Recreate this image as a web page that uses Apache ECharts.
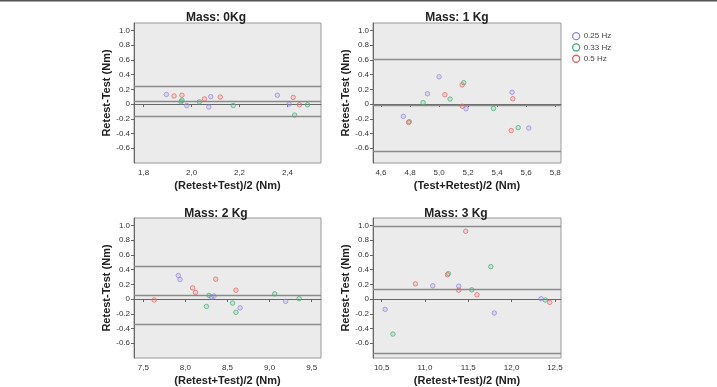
<!DOCTYPE html>
<html>
<head>
<meta charset="utf-8">
<script src="https://cdn.jsdelivr.net/npm/echarts@6/dist/echarts.min.js"></script>
<style>
  html, body { margin: 0; padding: 0; background: #fff; }
  #chart { width: 717px; height: 387px; }
</style>
</head>
<body>
<div id="chart"></div>
<script>
// Bland-Altman plots, one panel per mass
const freqNames = ["0.25 Hz", "0.33 Hz", "0.5 Hz"];
const titles = ["Mass: 0Kg", "Mass: 1 Kg", "Mass: 2 Kg", "Mass: 3 Kg"];
const xNames = ["(Retest+Test)/2 (Nm)", "(Test+Retest)/2 (Nm)", "(Retest+Test)/2 (Nm)", "(Retest+Test)/2 (Nm)"];
const yName = "Retest-Test (Nm)";

// x ticks per panel
const xTicks = [
  [1.8, 2.0, 2.2, 2.4],
  [4.6, 4.8, 5.0, 5.2, 5.4, 5.6, 5.8],
  [7.5, 8.0, 8.5, 9.0, 9.5],
  [10.5, 11.0, 11.5, 12.0, 12.5]
];
const xRanges = [[1.76, 2.54], [4.545, 5.84], [7.39, 9.61], [10.4, 12.57]];
const yTicks = [-0.6, -0.4, -0.2, 0, 0.2, 0.4, 0.6, 0.8, 1.0];

// mean difference and limits of agreement
const refLines = [
  [0.245, 0.04, -0.165],
  [0.61, -0.02, -0.64],
  [0.45, 0.054, -0.34],
  [0.995, 0.13, -0.74]
];

// [mean, diff] points, per panel
const hz025 = [
  [[1.895, 0.13], [1.98, -0.02], [2.072, -0.04], [2.08, 0.10], [2.358, 0.12], [2.407, 0.0]],
  [[4.754, -0.167], [4.92, 0.14], [5.0, 0.37], [5.186, -0.063], [5.503, 0.16], [5.618, -0.326]],
  [[7.916, 0.32], [7.936, 0.265], [8.31, 0.03], [8.34, 0.04], [8.65, -0.12], [9.19, -0.03]],
  [[10.54, -0.14], [11.09, 0.18], [11.39, 0.175], [11.8, -0.19], [12.34, 0.005]]
];
const hz033 = [
  [[1.96, 0.05], [1.956, 0.03], [2.033, 0.03], [2.174, -0.02], [2.43, -0.15], [2.484, -0.01]],
  [[4.795, -0.24], [4.89, 0.02], [5.076, 0.068], [5.17, 0.29], [5.375, -0.06], [5.545, -0.32]],
  [[8.25, -0.1], [8.28, 0.05], [8.56, -0.055], [8.6, -0.18], [9.06, 0.07], [9.35, 0.005]],
  [[10.63, -0.475], [11.27, 0.345], [11.54, 0.125], [11.76, 0.44], [12.39, -0.013]]
];
const hz05 = [
  [[1.927, 0.11], [1.96, 0.12], [2.054, 0.07], [2.12, 0.095], [2.424, 0.09], [2.45, -0.01]],
  [[4.79, -0.25], [5.04, 0.127], [5.159, 0.26], [5.16, -0.03], [5.508, 0.072], [5.497, -0.36]],
  [[7.63, -0.013], [8.086, 0.152], [8.12, 0.09], [8.36, 0.27], [8.6, 0.12]],
  [[10.89, 0.206], [11.26, 0.33], [11.39, 0.12], [11.47, 0.92], [11.6, 0.058], [12.44, -0.045]]
];

const colors = ["#9185e0", "#3fae77", "#e8625c"];
const fills = ["rgba(170,160,235,0.4)", "rgba(110,200,150,0.4)", "rgba(240,140,135,0.4)"];
const font = "Liberation Sans, Arial, sans-serif";

const grids = [
  { left: 134, top: 23, width: 187, height: 140 },
  { left: 373, top: 23, width: 188, height: 140 },
  { left: 134, top: 218, width: 187, height: 140 },
  { left: 373, top: 218, width: 188, height: 140 }
];
const titleX = [211, 452, 211, 451];
const titleY = [7, 7, 203, 203];

const chart = echarts.init(document.getElementById("chart"));

const grid = grids.map((g) => ({
  ...g,
  show: true,
  backgroundColor: "#ebebeb",
  borderColor: "#9a9a9a",
  borderWidth: 1
}));

const xAxis = grids.map((g, i) => ({
  type: "value",
  gridIndex: i,
  min: xRanges[i][0],
  max: xRanges[i][1],
  name: xNames[i],
  nameLocation: "middle",
  nameGap: 17,
  nameTextStyle: { fontFamily: font, fontWeight: "bold", fontSize: 11, color: "#222" },
  axisLine: { show: true, lineStyle: { color: "#666" } },
  axisTick: { show: true, length: 3, customValues: xTicks[i], lineStyle: { color: "#666" } },
  axisLabel: {
    customValues: xTicks[i],
    fontFamily: font,
    fontSize: 8,
    color: "#333",
    margin: 6,
    formatter: (v) => v.toFixed(1).replace(".", ",")
  },
  splitLine: { show: false }
}));

const yAxis = grids.map((g, i) => ({
  type: "value",
  gridIndex: i,
  min: -0.8,
  max: 1.1,
  name: yName,
  nameLocation: "middle",
  nameGap: 22,
  nameTextStyle: { fontFamily: font, fontWeight: "bold", fontSize: 11, color: "#222" },
  axisLine: { show: true, lineStyle: { color: "#666" } },
  axisTick: { show: true, length: 3, customValues: yTicks, lineStyle: { color: "#666" } },
  axisLabel: {
    customValues: yTicks,
    fontFamily: font,
    fontSize: 8,
    color: "#333",
    margin: 4,
    formatter: (v) => (Math.abs(v) < 1e-9 ? "0" : v.toFixed(1))
  },
  splitLine: { show: false }
}));

const groups = [hz025, hz033, hz05];
const series = [];
grids.forEach((g, i) => {
  groups.forEach((grp, k) => {
    const s = {
      name: freqNames[k],
      type: "scatter",
      xAxisIndex: i,
      yAxisIndex: i,
      symbol: "circle",
      symbolSize: 4.5,
      itemStyle: { color: fills[k], borderColor: colors[k], borderWidth: 1, opacity: 0.7 },
      data: grp[i],
      z: 3
    };
    if (k === 0) {
      s.markLine = {
        silent: true,
        symbol: "none",
        label: { show: false },
        animation: false,
        lineStyle: { color: "#8a8a8a", width: 1.3, type: "solid" },
        data: refLines[i].map((y) => ({ yAxis: y }))
      };
    }
    series.push(s);
  });
});

const option = {
  animation: false,
  backgroundColor: "#fff",
  title: titles.map((t, i) => ({
    text: t,
    left: titleX[i],
    top: titleY[i],
    textAlign: "center",
    textStyle: { fontFamily: font, fontWeight: "bold", fontSize: 12, color: "#222" }
  })),
  legend: {
    data: freqNames,
    orient: "vertical",
    left: 572,
    top: 32,
    padding: 0,
    itemWidth: 7,
    itemHeight: 7,
    itemGap: 3,
    icon: "circle",
    itemStyle: { color: "#fff", borderColor: "inherit", borderWidth: 1.3, opacity: 1 },
    textStyle: { fontFamily: font, fontSize: 8, color: "#444", padding: [0, 0, 0, -1] }
  },
  grid,
  xAxis,
  yAxis,
  series,
  graphic: [
    {
      type: "rect",
      shape: { x: 0, y: 0, width: 717, height: 1.5 },
      style: { fill: "#555" }
    }
  ]
};

chart.setOption(option);
</script>
</body>
</html>
